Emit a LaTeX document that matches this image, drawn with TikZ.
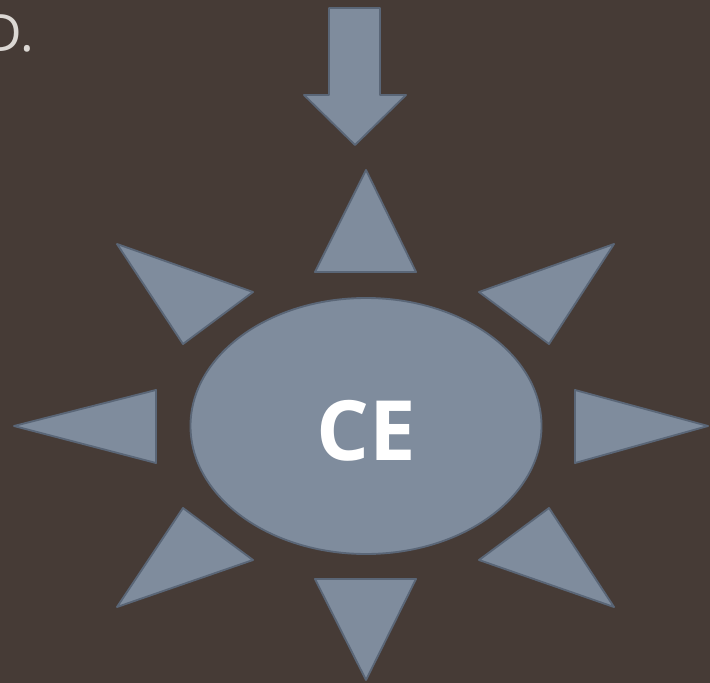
\documentclass[tikz,border=0pt]{standalone}
\usepackage{fontspec}
\setmainfont{Open Sans}
\usetikzlibrary{shapes.geometric}
\definecolor{bgbrown}{HTML}{463B36}
\definecolor{slatefill}{HTML}{7F8C9D}
\definecolor{slateline}{HTML}{5A6677}
\definecolor{paletext}{HTML}{DCD8D4}
\tikzset{
  ray/.style={fill=slatefill, draw=slateline, line width=1.6pt, line join=round},
}
\begin{document}
\begin{tikzpicture}[x=0.03cm, y=-0.03cm]
            \fill[bgbrown] (0,0) rectangle (710,683);
            \useasboundingbox (0,0) rectangle (710,683);

            \node[anchor=base east, text=paletext, font=\fontsize{44}{48}\selectfont, inner sep=0pt] (title) at (34,52) {D.};

            % arrow from the top
            \draw[ray] (329,8) -- (380,8) -- (380,95) -- (406,95) -- (355,145)
                       -- (304,95) -- (329,95) -- cycle;

            % centre
            \node[ellipse, ray, inner sep=0pt,
                  minimum width=10.53cm, minimum height=7.68cm] (core) at (366,426) {};
            \node[anchor=base, text=white, font=\fontsize{71}{76}\selectfont\bfseries, inner sep=0pt] (label) at (366,460) {CE};

            % rays
            \draw[ray] (366,170) -- (416,272) -- (315,272) -- cycle;
            \draw[ray] (366,680) -- (416,579) -- (315,579) -- cycle;
            \draw[ray] (14,426) -- (156,390) -- (156,463) -- cycle;
            \draw[ray] (708,426) -- (575,390) -- (575,463) -- cycle;
            \draw[ray] (117,244) -- (253,292) -- (183,344) -- cycle;
            \draw[ray] (614,244) -- (479,292) -- (549,344) -- cycle;
            \draw[ray] (117,607) -- (253,560) -- (183,508) -- cycle;
            \draw[ray] (614,607) -- (479,560) -- (549,508) -- cycle;
        \end{tikzpicture}
\end{document}
